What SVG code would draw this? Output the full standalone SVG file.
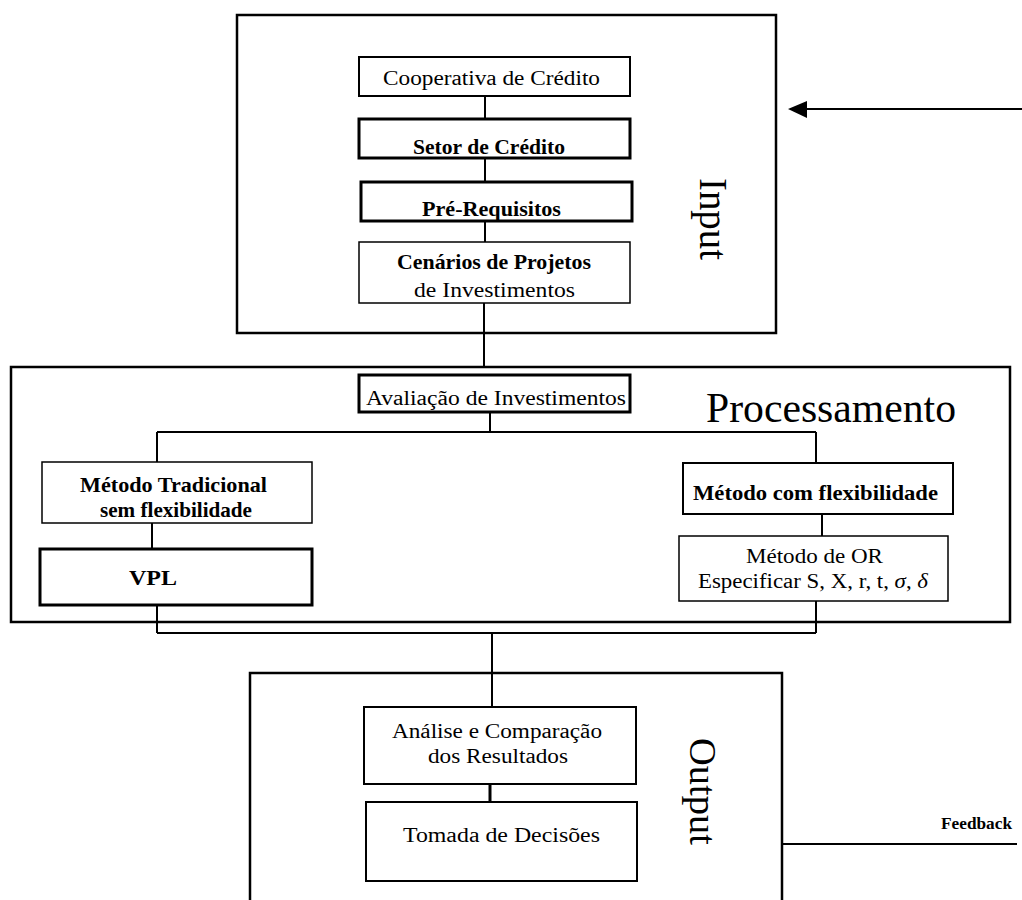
<svg xmlns="http://www.w3.org/2000/svg" width="1022" height="900" viewBox="0 0 1022 900">
<style>
text{font-family:"Liberation Serif","Times New Roman",serif;fill:#000}
.box{fill:#fff;stroke:#000;stroke-width:2}
.thick{fill:#fff;stroke:#000;stroke-width:3}
.frame{fill:none;stroke:#000;stroke-width:2.5}
.c{fill:none;stroke:#000;stroke-width:2}
.t{font-size:20px}
.b{font-size:21px;font-weight:bold}
.big{font-size:40px}
</style>
<rect width="1022" height="900" fill="#fff"/>
<g id="input-frame">
<rect class="frame" x="237" y="15" width="539" height="318"/>
<text class="big" transform="translate(700,178) rotate(90)" textLength="82" lengthAdjust="spacingAndGlyphs">Input</text>
</g>
<g id="processamento-frame">
<rect class="frame" x="11" y="367" width="999" height="255"/>
<text x="706" y="422" style="font-size:42px" textLength="250" lengthAdjust="spacingAndGlyphs">Processamento</text>
</g>
<g id="output-frame">
<path class="frame" d="M250,905 V673 H782 V905"/>
<text style="font-size:38px" transform="translate(690,738) rotate(90)" textLength="107" lengthAdjust="spacingAndGlyphs">Output</text>
</g>
<g id="connectors">
<path class="c" d="M485,96 V119 M485,158 V182 M485,221 V242 M484,303 V367"/>
<path class="c" d="M1022,109 H806"/>
<polygon points="788,109 807,101 807,118" fill="#000"/>
<path class="c" d="M490,412 V432 M157,432 H816 M157,432 V462 M816,432 V462 M152,523 V549 M822,514 V536"/>
<path class="c" d="M157,605 V633 M816,601 V633 M157,633 H816 M492,633 V707"/>
<path d="M490,784 V802" stroke="#000" stroke-width="3"/>
<path class="c" d="M782,844 H1017"/>
</g>
<g id="cooperativa">
<rect class="box" x="359" y="57" width="271" height="39"/>
<text class="t" x="383" y="85" textLength="217" lengthAdjust="spacingAndGlyphs">Cooperativa de Crédito</text>
</g>
<g id="setor">
<rect class="thick" x="359" y="119" width="271" height="39"/>
<text class="b" x="413" y="154" textLength="152" lengthAdjust="spacingAndGlyphs">Setor de Crédito</text>
</g>
<g id="prerequisitos">
<rect class="thick" x="361" y="182" width="271" height="39"/>
<text class="b" x="422" y="216" textLength="139" lengthAdjust="spacingAndGlyphs">Pré-Requisitos</text>
</g>
<g id="cenarios">
<rect class="box" x="359" y="242" width="271" height="61" style="stroke-width:1.5"/>
<text class="b" x="397" y="269" textLength="194" lengthAdjust="spacingAndGlyphs">Cenários de Projetos</text>
<text class="t" x="414" y="297" textLength="161" lengthAdjust="spacingAndGlyphs">de Investimentos</text>
</g>
<g id="avaliacao">
<rect class="thick" x="359" y="375" width="271" height="37"/>
<text class="t" x="366" y="405" textLength="260" lengthAdjust="spacingAndGlyphs">Avaliação de Investimentos</text>
</g>
<g id="metodo-tradicional">
<rect class="box" x="42" y="462" width="270" height="61" style="stroke-width:1.5"/>
<text class="b" x="80" y="492" textLength="187" lengthAdjust="spacingAndGlyphs">Método Tradicional</text>
<text class="b" x="100" y="517" textLength="152" lengthAdjust="spacingAndGlyphs">sem flexibilidade</text>
</g>
<g id="vpl">
<rect class="thick" x="40" y="549" width="272" height="56"/>
<text class="b" x="129" y="585" textLength="48" lengthAdjust="spacingAndGlyphs">VPL</text>
</g>
<g id="metodo-flexibilidade">
<rect class="box" x="683" y="463" width="270" height="51"/>
<text class="b" x="693" y="500" textLength="245" lengthAdjust="spacingAndGlyphs">Método com flexibilidade</text>
</g>
<g id="metodo-or">
<rect class="box" x="679" y="536" width="269" height="65" style="stroke-width:1.5"/>
<text class="t" x="746" y="563" textLength="137" lengthAdjust="spacingAndGlyphs">Método de OR</text>
<text class="t" x="698" y="588" textLength="230" lengthAdjust="spacingAndGlyphs">Especificar S, X, r, t, <tspan font-style="italic">σ</tspan>, <tspan font-style="italic">δ</tspan></text>
</g>
<g id="analise">
<rect class="box" x="364" y="707" width="272" height="77"/>
<text class="t" x="392" y="738" textLength="210" lengthAdjust="spacingAndGlyphs">Análise e Comparação</text>
<text class="t" x="428" y="763" textLength="140" lengthAdjust="spacingAndGlyphs">dos Resultados</text>
</g>
<g id="tomada">
<rect class="box" x="366" y="802" width="271" height="79"/>
<text class="t" x="403" y="842" textLength="197" lengthAdjust="spacingAndGlyphs">Tomada de Decisões</text>
</g>
<g id="feedback-label">
<text x="941" y="829" style="font-size:17px;font-weight:bold" textLength="71" lengthAdjust="spacingAndGlyphs">Feedback</text>
</g>
</svg>
